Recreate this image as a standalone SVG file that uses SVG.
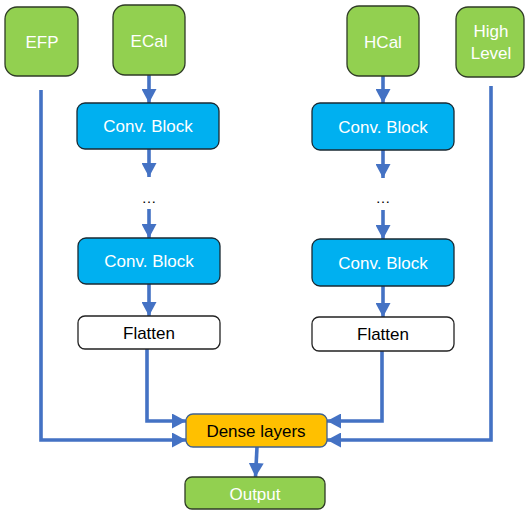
<svg xmlns="http://www.w3.org/2000/svg" width="525" height="510" viewBox="0 0 525 510">
<style>
.g{fill:#92D050;stroke:#2F3B26;stroke-width:1.3}
.b{fill:#00B0F0;stroke:#1A2A33;stroke-width:1.3}
.w{fill:#FFFFFF;stroke:#222;stroke-width:1.3}
.o{fill:#FFC000;stroke:#41628F;stroke-width:1.3}
text{font-family:"Liberation Sans",Arial,sans-serif;font-size:17px;text-anchor:middle;dominant-baseline:central}
.wt{fill:#FFFFFF}
.bt{fill:#000000}
.c{fill:none;stroke:#4472C4;stroke-width:3.6}
</style>
<defs>
<marker id="ah" markerUnits="userSpaceOnUse" markerWidth="15" markerHeight="15" viewBox="0 0 15 15" refX="14" refY="7.5" orient="auto">
<path d="M0,0 L14,7.5 L0,15 z" fill="#4472C4"/>
</marker>
</defs>
<g id="connectors">
<line class="c" x1="149" y1="75" x2="149" y2="103" marker-end="url(#ah)"/>
<line class="c" x1="149" y1="149" x2="149" y2="177" marker-end="url(#ah)"/>
<line class="c" x1="149" y1="209" x2="149" y2="238" marker-end="url(#ah)"/>
<line class="c" x1="149" y1="284" x2="149" y2="316" marker-end="url(#ah)"/>
<line class="c" x1="383" y1="76" x2="383" y2="103" marker-end="url(#ah)"/>
<line class="c" x1="383" y1="150" x2="383" y2="178" marker-end="url(#ah)"/>
<line class="c" x1="383" y1="210" x2="383" y2="239" marker-end="url(#ah)"/>
<line class="c" x1="383" y1="286" x2="383" y2="317" marker-end="url(#ah)"/>
<polyline class="c" points="147,349 147,421 186,421" marker-end="url(#ah)"/>
<polyline class="c" points="41,90 41,440 186,440" marker-end="url(#ah)"/>
<polyline class="c" points="382,351 382,421 327,421" marker-end="url(#ah)"/>
<polyline class="c" points="491,86 491,440 327,440" marker-end="url(#ah)"/>
<line class="c" x1="257" y1="447" x2="255.5" y2="477" marker-end="url(#ah)"/>
</g>
<g id="efp"><rect class="g" x="5" y="7" width="73" height="69" rx="12"/><text class="wt" x="42" y="42">EFP</text></g>
<g id="ecal"><rect class="g" x="113" y="5" width="72" height="70" rx="12"/><text class="wt" x="149" y="41">ECal</text></g>
<g id="hcal"><rect class="g" x="347" y="6" width="72" height="70" rx="12"/><text class="wt" x="383" y="42">HCal</text></g>
<g id="highlevel"><rect class="g" x="456" y="7" width="68" height="70" rx="12"/><text class="wt" x="491" y="31">High</text><text class="wt" x="491" y="53">Level</text></g>
<g id="conv1l"><rect class="b" x="77" y="103" width="142" height="46" rx="8"/><text class="wt" x="148" y="126">Conv. Block</text></g>
<g id="conv1r"><rect class="b" x="312" y="103" width="142" height="47" rx="8"/><text class="wt" x="383" y="127">Conv. Block</text></g>
<g id="dotsl"><text class="bt" x="149" y="197" style="font-size:15px">…</text></g>
<g id="dotsr"><text class="bt" x="383" y="197" style="font-size:15px">…</text></g>
<g id="conv2l"><rect class="b" x="78" y="238" width="142" height="46" rx="8"/><text class="wt" x="149" y="261">Conv. Block</text></g>
<g id="conv2r"><rect class="b" x="312" y="239" width="142" height="47" rx="8"/><text class="wt" x="383" y="263">Conv. Block</text></g>
<g id="flattenl"><rect class="w" x="78" y="316" width="142" height="33" rx="7"/><text class="bt" x="149" y="333">Flatten</text></g>
<g id="flattenr"><rect class="w" x="312" y="317" width="142" height="34" rx="7"/><text class="bt" x="383" y="334">Flatten</text></g>
<g id="dense"><rect class="o" x="186" y="414" width="141" height="33" rx="7"/><text class="bt" x="256" y="431">Dense layers</text></g>
<g id="output"><rect class="g" x="185" y="477" width="140" height="32" rx="7"/><text class="wt" x="255" y="494">Output</text></g>
</svg>
